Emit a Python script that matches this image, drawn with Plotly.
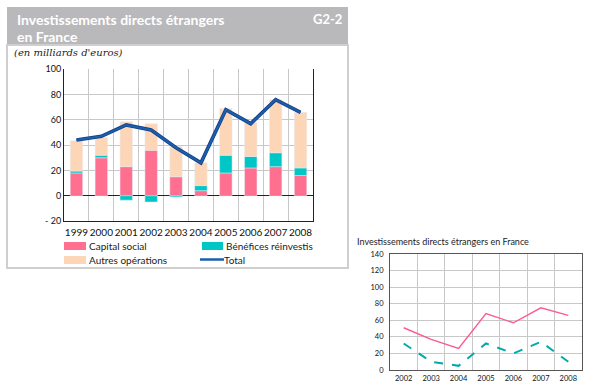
import plotly.graph_objects as go

years = ["1999", "2000", "2001", "2002", "2003", "2004", "2005", "2006", "2007", "2008"]
capital_social = [18, 30, 23, 36, 15, 4, 18, 22, 23, 16]
benefices_reinvestis = [1.5, 2, -3.5, -5, -1, 4, 14, 9, 11, 6]
autres_operations = [24, 14, 35.5, 21, 24, 18, 37, 27, 42, 44]
total = [44, 47, 56, 52, 38, 26, 68, 57, 76, 66]

years2 = ["2002", "2003", "2004", "2005", "2006", "2007", "2008"]
serie_rose = [51, 37, 26, 68, 57, 75, 66]
serie_turquoise = [32, 10, 5, 32, 20, 34, 10]

C_CAP = "#ff7090"
C_BEN = "#00c6c6"
C_AUT = "#fdd6b8"
C_TOT = "#1a5fb0"
FONT = "Lato"

W, H = 590, 388
def px(x): return x / W
def py(y): return 1 - y / H

fig = go.Figure()
fig.add_trace(go.Bar(x=years, y=capital_social, marker_color=C_CAP, name="Capital social",
                     xaxis="x", yaxis="y"))
fig.add_trace(go.Bar(x=years, y=benefices_reinvestis, marker_color=C_BEN, name="Bénéfices réinvestis",
                     xaxis="x", yaxis="y"))
fig.add_trace(go.Bar(x=years, y=autres_operations, marker_color=C_AUT, name="Autres opérations",
                     xaxis="x", yaxis="y"))
fig.add_trace(go.Scatter(x=years, y=total, mode="lines", line=dict(color="#143f80", width=3.6),
                         xaxis="x", yaxis="y", hoverinfo="skip"))
fig.add_trace(go.Scatter(x=years, y=total, mode="lines", line=dict(color=C_TOT, width=2),
                         name="Total", xaxis="x", yaxis="y"))

fig.add_trace(go.Scatter(x=years2, y=serie_rose, mode="lines", line=dict(color="#ff5a8c", width=1.4),
                         xaxis="x2", yaxis="y2"))
fig.add_trace(go.Scatter(x=years2, y=serie_turquoise, mode="lines",
                         line=dict(color="#00a9ad", width=2, dash="dash"),
                         xaxis="x2", yaxis="y2"))

grid = "#c8c8c8"
fig.update_layout(
    width=W, height=H, margin=dict(l=0, r=0, t=0, b=0),
    paper_bgcolor="white", plot_bgcolor="white",
    showlegend=False, barmode="relative", bargap=0.5,
    font=dict(family=FONT, color="#222"),
    xaxis=dict(domain=[px(64), px(313)], type="category", tickson="boundaries",
               showgrid=True, gridcolor=grid, gridwidth=1, ticks="", tickangle=0,
               automargin=False, ticklabelstandoff=2,
               showline=True, linecolor="#222", linewidth=1,
               tickfont=dict(size=10, family=FONT, color="#111"), anchor="y"),
    yaxis=dict(domain=[py(221), py(69.3)], range=[-20, 100], automargin=False,
               tickvals=[-20, 0, 20, 40, 60, 80, 100],
               ticktext=["- 20", "0", "20", "40", "60", "80", "100"],
               showgrid=True, gridcolor=grid, zeroline=True, zerolinecolor="#222",
               zerolinewidth=1, showline=True, linecolor="#222", mirror=True,
               ticks="", tickfont=dict(size=9, family=FONT, color="#111"), anchor="x"),
    xaxis2=dict(domain=[px(390), px(582)], type="category", tickson="boundaries",
                range=[-0.5, len(years2) - 0.5],
                showgrid=True, gridcolor=grid, ticks="", tickangle=0, automargin=False,
                ticklabelstandoff=1,
                showline=True, linecolor="#555", mirror=True,
                tickfont=dict(size=7.5, family=FONT, color="#111"), anchor="y2"),
    yaxis2=dict(domain=[py(370), py(254)], range=[0, 140], dtick=20, automargin=False,
                ticklabelstandoff=4,
                showgrid=True, gridcolor=grid, zeroline=False,
                showline=True, linecolor="#555", mirror=True, ticks="",
                tickfont=dict(size=7.5, family=FONT, color="#111"), anchor="x2"),
)

shapes = [
    dict(type="rect", xref="paper", yref="paper", x0=px(7), x1=px(348), y0=py(45), y1=py(7),
         fillcolor="#b9b9bc", line=dict(width=0), layer="below"),
    dict(type="rect", xref="paper", yref="paper", x0=px(7), x1=px(348), y0=py(268), y1=py(45),
         fillcolor="rgba(0,0,0,0)", line=dict(color="#cfcfcf", width=2), layer="below"),
    dict(type="rect", xref="paper", yref="paper", x0=px(64), x1=px(86), y0=py(250), y1=py(242),
         fillcolor=C_CAP, line=dict(width=0)),
    dict(type="rect", xref="paper", yref="paper", x0=px(202), x1=px(223), y0=py(250), y1=py(242),
         fillcolor=C_BEN, line=dict(width=0)),
    dict(type="rect", xref="paper", yref="paper", x0=px(64), x1=px(86), y0=py(264), y1=py(256),
         fillcolor=C_AUT, line=dict(width=0)),
    dict(type="line", xref="paper", yref="paper", x0=px(200), x1=px(224), y0=py(259.5), y1=py(259.5),
         line=dict(color=C_TOT, width=2.5)),
]
fig.update_layout(shapes=shapes)

ann = []
def text(x, y, s, size, color="#222", xanchor="left", bold=False, italic=False, family=FONT):
    if bold:
        s = "<b>" + s + "</b>"
    if italic:
        s = "<i>" + s + "</i>"
    ann.append(dict(xref="paper", yref="paper", x=px(x), y=py(y), text=s, showarrow=False,
                    xanchor=xanchor, yanchor="middle", xshift=0,
                    font=dict(size=size, color=color, family=family)))

text(15, 19, "Investissements directs étrangers", 14, color="white", bold=True)
text(15, 36, "en France", 14, color="white", bold=True)
text(344, 19, "G2-2", 13, color="white", xanchor="right", bold=True)
text(12, 53, "(en milliards d'euros)", 10, color="#222", italic=True, family="DejaVu Serif")
text(87, 246, "Capital social", 10)
text(224, 246, "Bénéfices réinvestis", 10)
text(87, 260, "Autres opérations", 10)
text(222, 260, "Total", 10)
text(355, 241, "Investissements directs étrangers en France", 9)
fig.update_layout(annotations=ann)

fig.write_html("out.html", config={"displayModeBar": False},
               post_script="document.body.style.margin='0';")
